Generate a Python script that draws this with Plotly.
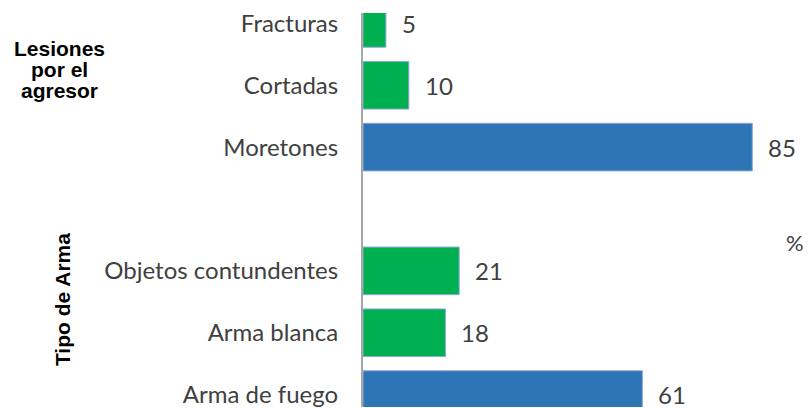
import plotly.graph_objects as go

categories = ["Arma de fuego", "Arma blanca", "Objetos contundentes", " ",
              "Moretones", "Cortadas", "Fracturas"]
values = [61, 18, 21, None, 85, 10, 5]
colors = ["#2E75B6", "#00B050", "#00B050", "#FFFFFF", "#2E75B6", "#00B050", "#00B050"]

OFF = 8  # page body margin
W, H = 812 - OFF, 408 - OFF
L, R, T, B = 363 - OFF, 0, 10 - OFF, 0
pw = W - L - R


def px(x):
    return (x - OFF - L) / pw


def py(y):
    return 1 - (y - OFF - T) / (H - T - B)


fig = go.Figure()
fig.add_trace(go.Bar(
    y=categories, x=values, orientation="h",
    marker=dict(color=colors, line=dict(color="#8EA9DB", width=1)),
    hoverinfo="skip",
))

for c, v in zip(categories, values):
    if v is None:
        continue
    fig.add_annotation(x=v, y=c, xref="x", yref="y", text=str(v),
                       showarrow=False, xanchor="left", xshift=14,
                       font=dict(family="Lato", size=24, color="#404040"))

bold = dict(family="Arial, Liberation Sans", size=21, color="#000")
for txt, yy in [("Lesiones", 46), ("por el", 67), ("agresor", 88)]:
    fig.add_annotation(x=px(59), y=py(yy), xref="paper", yref="paper", text=f"<b>{txt}</b>",
                       showarrow=False, xanchor="center", yanchor="middle", font=bold)
fig.add_annotation(x=px(62), y=py(300), xref="paper", yref="paper", text="<b>Tipo de Arma</b>",
                   showarrow=False, textangle=-90, xanchor="center", yanchor="middle", font=bold)
fig.add_annotation(x=px(795), y=py(242), xref="paper", yref="paper", text="%",
                   showarrow=False, xanchor="center", yanchor="middle",
                   font=dict(family="Lato", size=22, color="#404040"))

fig.update_layout(
    width=W, height=H,
    margin=dict(l=L, r=R, t=T, b=B, pad=0),
    plot_bgcolor="white", paper_bgcolor="white",
    bargap=0.23, showlegend=False,
    xaxis=dict(range=[0, pw / 4.58], visible=False, fixedrange=True),
    yaxis=dict(type="category", categoryorder="array", categoryarray=categories,
               range=[-0.2, 6.168], showline=True, linecolor="#A6A6A6", linewidth=2,
               ticks="", showgrid=False, ticklabelstandoff=18,
               tickfont=dict(family="Lato", size=24, color="#404040")),
)

fig.write_html("out.html")
